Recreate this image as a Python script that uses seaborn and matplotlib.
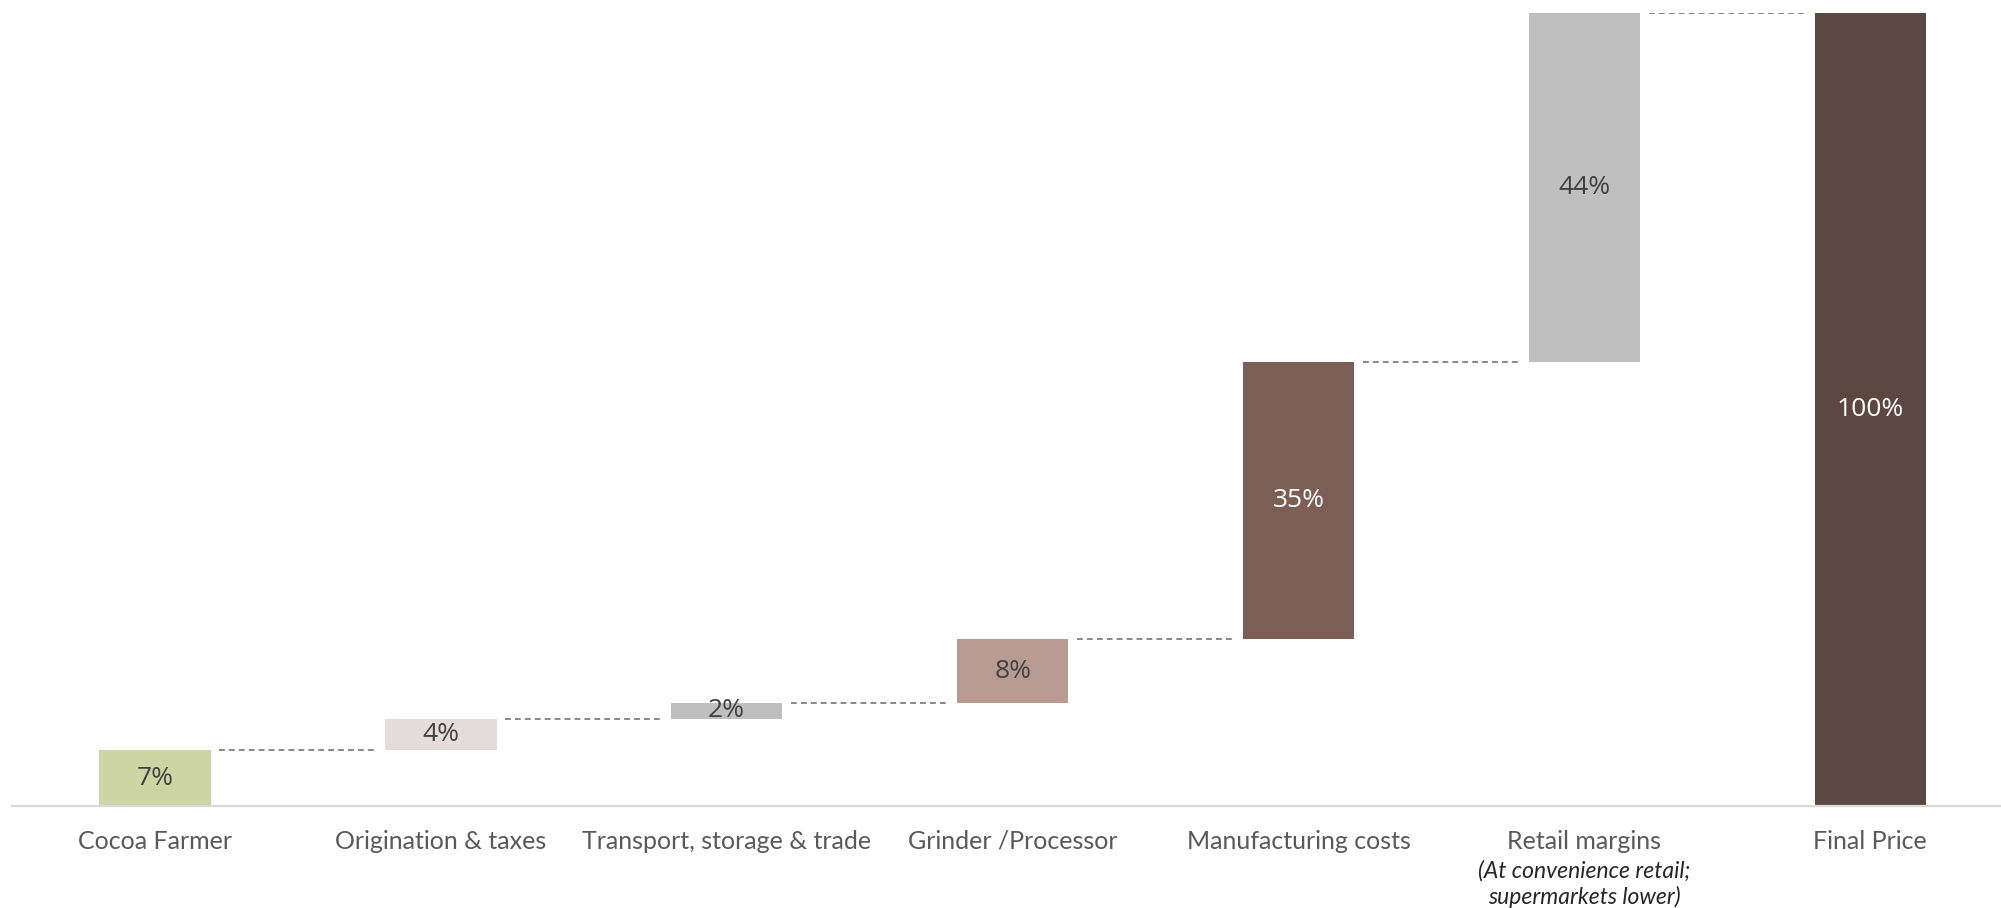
import matplotlib
matplotlib.use("Agg")
import matplotlib.pyplot as plt
import seaborn as sns
import pandas as pd
from matplotlib.transforms import blended_transform_factory

# Cocoa value chain: share of the final chocolate price captured at each stage
categories = ["Cocoa Farmer", "Origination & taxes", "Transport, storage & trade",
              "Grinder /Processor", "Manufacturing costs", "Retail margins", "Final Price"]
shares = [7, 4, 2, 8, 35, 44, 100]
value_labels = ["7%", "4%", "2%", "8%", "35%", "44%", "100%"]
is_total = [False, False, False, False, False, False, True]
retail_note = ["(At convenience retail;", "supermarkets lower)"]

bar_colors = ["#CED5A5", "#E5DDDB", "#BFBFBF", "#B79B93", "#7B5F56", "#BFBFBF", "#5C4841"]
text_colors = ["#404040", "#404040", "#404040", "#404040", "#FFFFFF", "#404040", "#FFFFFF"]

# Floating bases for the waterfall
bases = []
running = 0
for s, tot in zip(shares, is_total):
    if tot:
        bases.append(0)
    else:
        bases.append(running)
        running += s
tops = [b + s for b, s in zip(bases, shares)]

df = pd.DataFrame({"stage": categories, "share": shares})

sns.set_theme(style="white")
plt.rcParams["font.family"] = ["Lato", "DejaVu Sans"]

W, H = 2001, 908
fig = plt.figure(figsize=(W / 100, H / 100), dpi=100)
fig.patch.set_facecolor("white")
ax_left, ax_right, ax_top, ax_bottom = 12, 2001, 12.8, 806
ax = fig.add_axes([ax_left / W, (H - ax_bottom) / H,
                   (ax_right - ax_left) / W, (ax_bottom - ax_top) / H])

bar_width = 0.39
sns.barplot(data=df, x="stage", y="share", hue="stage",
            palette=dict(zip(categories, bar_colors)), order=categories,
            hue_order=categories, width=bar_width, saturation=1,
            linewidth=0, legend=False, ax=ax)

# Lift each bar onto its running base
bars = sorted(ax.patches, key=lambda p: p.get_x())
for patch, base in zip(bars, bases):
    patch.set_y(base)

# Dashed connectors between consecutive bars
gap = 0.03
for i in range(len(categories) - 1):
    y = tops[i]
    ax.plot([i + bar_width / 2 + gap, i + 1 - bar_width / 2 - gap], [y, y],
            color="#7F7F7F", linewidth=1.3, linestyle=(0, (3.2, 2.3)),
            dash_capstyle="butt")

# Value labels in the middle of each bar
for i, (b, s, lab, c) in enumerate(zip(bases, shares, value_labels, text_colors)):
    ax.text(i, b + s / 2, lab, ha="center", va="center", color=c,
            fontsize=19, family=["Open Sans", "DejaVu Sans"])

ax.set_xlim(-0.5, 6.457)
ax.set_ylim(0, 100)
ax.set_xlabel("")
ax.set_ylabel("")
ax.set_yticks([])
ax.set_xticks(range(len(categories)))
ax.set_xticklabels(categories, fontsize=18, color="#595959")
ax.tick_params(axis="x", length=0, pad=17)

for side in ["top", "left", "right"]:
    ax.spines[side].set_visible(False)
ax.spines["bottom"].set_color("#D9D9D9")
ax.spines["bottom"].set_linewidth(1.6)
ax.set_facecolor("white")

# Italic qualifier under the retail margins label
tr = blended_transform_factory(ax.transData, fig.transFigure)
retail_idx = categories.index("Retail margins")
for line, ypix in zip(retail_note, [871, 897]):
    ax.text(retail_idx, 1 - ypix / H, line, transform=tr, ha="center", va="center",
            fontsize=16.5, style="italic", color="#262626")

fig.savefig("out.png", dpi=100, facecolor="white")
